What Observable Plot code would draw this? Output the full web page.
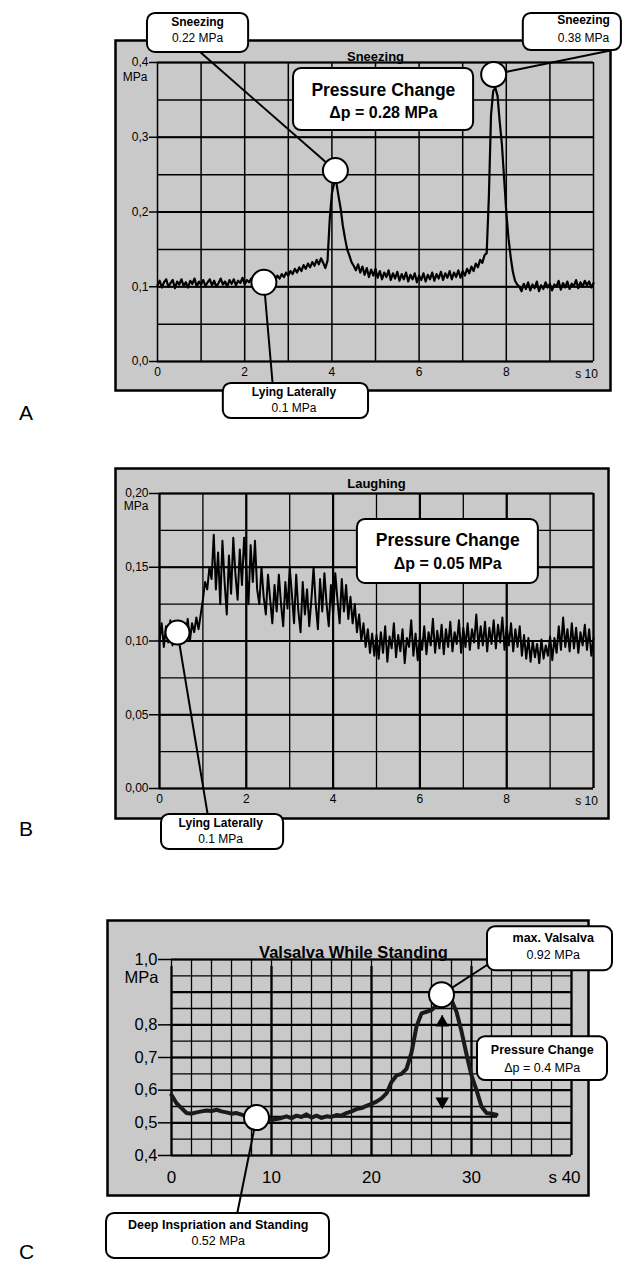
<!DOCTYPE html>
<html><head><meta charset="utf-8">
<script src="https://cdn.jsdelivr.net/npm/d3@7"></script>
<script src="https://cdn.jsdelivr.net/npm/@observablehq/plot@0.6"></script>
<style>
body{margin:0;background:#fff;}
#page{position:relative;width:644px;height:1275px;overflow:hidden;font-family:"Liberation Sans",Arial,Helvetica,sans-serif;}
.panel{position:absolute;left:0;}
.letter{position:absolute;left:19px;font-size:21px;line-height:1;}
</style></head><body><div id="page"></div>
<script>
// ---------------- DATA ----------------
// Panel A: Sneezing, pressure in MPa sampled every 0.05 s, 0..10 s
const sneezeStep = 0.05;
const sneezeValues = [
0.102,0.108,0.099,0.106,0.110,0.100,0.105,0.109,0.098,0.107,
0.103,0.110,0.101,0.106,0.099,0.108,0.104,0.111,0.100,0.107,
0.103,0.109,0.101,0.106,0.110,0.102,0.108,0.100,0.105,0.111,
0.103,0.107,0.100,0.109,0.104,0.110,0.102,0.108,0.105,0.112,
0.103,0.109,0.106,0.111,0.102,0.108,0.105,0.112,0.104,0.110,
0.106,
0.111,0.107,0.113,0.109,0.115,0.111,0.117,0.113,0.119,0.115,
0.121,0.117,0.124,0.119,0.126,0.121,0.129,0.124,0.131,0.126,
0.133,0.128,0.136,0.130,0.138,0.132,
0.125,0.135,0.190,0.225,0.238,0.240,0.222,0.205,0.182,0.165,0.150,0.142,0.133,0.128,
0.122,0.130,0.119,0.127,0.116,0.125,0.113,0.123,0.115,0.124,
0.112,0.121,0.110,0.119,0.113,0.122,0.109,0.118,0.111,0.120,
0.108,0.117,0.110,0.119,0.107,0.116,0.110,0.118,0.106,0.115,
0.109,0.118,0.107,0.116,0.110,0.119,0.108,0.117,0.111,0.120,
0.109,0.118,0.112,0.121,0.110,0.119,0.113,0.122,0.112,0.121,
0.115,0.124,0.118,0.127,0.121,0.131,0.126,0.136,0.132,0.142,
0.145,0.220,0.330,0.362,0.366,0.355,0.320,0.290,0.245,0.200,0.165,0.140,0.120,0.108,0.103,0.100,
0.094,0.104,0.097,0.106,0.095,0.103,0.098,0.107,0.094,0.102,
0.097,0.106,0.099,0.104,0.095,0.103,0.100,0.108,0.096,0.105,
0.099,0.107,0.097,0.104,0.101,0.109,0.098,0.106,0.100,0.108,
0.102,0.107,0.099,0.105
];
const sneezeYTicks = [0, 0.1, 0.2, 0.3, 0.4];
const sneezeXTicks = [0, 2, 4, 6, 8];

// Panel B: Laughing, MPa every 0.05 s, 0..10 s
const laughStep = 0.05;
const laughValues = [
0.100,0.112,0.096,0.110,0.099,0.114,0.097,0.109,0.101,0.113,
0.098,0.111,0.103,0.115,0.100,0.112,0.106,0.116,0.108,
0.118,0.128,0.140,0.135,0.150,0.142,
0.172,0.135,0.160,0.125,0.168,0.140,0.118,0.158,0.132,0.170,
0.145,0.128,0.162,0.138,0.170,0.150,0.125,0.165,0.140,0.168,
0.135,
0.125,0.150,0.130,0.118,0.145,0.128,0.112,0.138,0.120,0.145,
0.125,0.110,0.140,0.122,0.150,0.132,0.112,0.145,0.120,0.106,
0.140,0.118,0.135,0.110,0.128,0.150,0.125,0.108,0.142,0.120,
0.146,0.125,0.110,0.138,0.118,0.146,0.128,0.112,0.142,0.120,
0.138,0.115,0.130,
0.112,0.125,0.106,0.118,0.100,0.112,0.096,0.108,0.092,0.105,0.090,0.104,
0.088,0.106,0.092,0.110,0.086,0.103,0.095,0.112,0.089,0.104,
0.093,0.108,0.085,0.102,0.096,0.114,0.090,0.105,0.087,0.103,
0.094,0.110,0.091,0.106,0.097,0.115,0.092,0.107,0.095,0.111,
0.091,0.108,0.096,0.113,0.093,0.106,0.098,0.114,0.092,0.109,
0.096,0.112,0.094,0.108,0.099,0.118,0.095,0.110,0.097,0.113,
0.093,0.109,0.098,0.114,0.095,0.111,0.099,0.116,0.094,0.110,
0.097,0.112,0.093,0.108,0.096,0.110,0.090,0.104,0.088,0.102,
0.086,0.100,0.089,0.098,0.085,0.101,0.088,0.097,0.090,0.103,
0.087,0.102,0.092,0.110,0.094,0.116,0.096,0.108,0.093,0.112,
0.095,0.109,0.092,0.106,0.097,0.111,0.094,0.108,0.090,0.102
];
const laughYTicks = [0, 0.05, 0.10, 0.15, 0.20];
const laughXTicks = [0, 2, 4, 6, 8];

// Panel C: Valsalva while standing, MPa every 0.5 s, 0..32.5 s
const valsalvaStep = 0.5;
const valsalvaValues = [
0.585,0.560,0.545,0.530,0.528,0.532,0.535,0.538,0.536,0.540,
0.535,0.532,0.528,0.530,0.525,0.520,0.518,0.515,0.512,0.510,
0.508,0.512,0.515,0.520,0.514,0.522,0.518,0.526,0.516,0.522,
0.515,0.520,0.518,0.524,0.522,0.530,0.535,0.542,0.545,0.552,
0.558,0.565,0.575,0.590,0.625,0.645,0.650,0.665,0.715,0.795,
0.835,0.840,0.845,0.860,0.865,0.870,0.875,0.840,0.780,0.710,
0.645,0.600,0.550,0.530,0.528,0.525
];
const valsalvaYTicks = [0.4, 0.5, 0.6, 0.7, 0.8, 1.0];
const valsalvaXTicks = [0, 10, 20, 30];

// ---------------- ANNOTATIONS (data coordinates) ----------------
const sneezeMarkers = [{t:4.08, p:0.2555}, {t:7.71, p:0.384}, {t:2.44, p:0.106}];
const sneezeLeaders = [
  {x1:0.99, y1:0.4134, x2:4.08, y2:0.2555},
  {x1:7.71, y1:0.384, x2:10.39, y2:0.416},
  {x1:2.44, y1:0.106, x2:2.64, y2:-0.0294}
];
const sneezeNotes = [
  {x1:-0.23, x2:2.09, y1:0.4134, y2:0.4656, tx:0.92, ty1:0.4535, ty2:0.432, a:"Sneezing", b:"0.22 MPa"},
  {x1:8.39, x2:10.64, y1:0.416, y2:0.4656, tx:9.77, ty1:0.456, ty2:0.433, a:"Sneezing", b:"0.38 MPa"},
  {x1:1.51, x2:4.84, y1:-0.0763, y2:-0.0294, tx:3.13, ty1:-0.0415, ty2:-0.0629, a:"Lying Laterally", b:"0.1 MPa"}
];
const sneezeChange = [{x1:3.12, x2:7.25, y1:0.309, y2:0.392, tx:5.18, ty1:0.3625, ty2:0.332, a:"Pressure Change", b:"Δp = 0.28 MPa"}];

const laughMarkers = [{t:0.415, p:0.1058}];
const laughLeaders = [{x1:0.415, y1:0.1058, x2:1.11, y2:-0.0176}];
const laughNotes = [{x1:0.046, x2:2.86, y1:-0.0414, y2:-0.0176, tx:1.41, ty1:-0.0237, ty2:-0.0346, a:"Lying Laterally", b:"0.1 MPa"}];
const laughChange = [{x1:4.56, x2:8.73, y1:0.139, y2:0.1824, tx:6.64, ty1:0.168, ty2:0.1525, a:"Pressure Change", b:"Δp = 0.05 MPa"}];

const valsalvaMarkers = [{t:27.0, p:0.8924}, {t:8.5, p:0.516}];
const valsalvaLeaders = [
  {x1:27.0, y1:0.8924, x2:31.9, y2:0.990},
  {x1:8.5, y1:0.516, x2:6.57, y2:0.2226}
];
const valsalvaBaseline = [{x1:8.5, x2:32.6, y:0.519}];
const valsalvaArrow = [{x:27.07, top:0.828, bottom:0.544}];
const valsalvaNotes = [
  {x1:31.6, x2:44.1, y1:0.9657, y2:1.1003, tx:38.17, ty1:1.0667, ty2:1.0147, a:"max. Valsalva", b:"0.92 MPa"},
  {x1:30.6, x2:43.6, y1:0.6294, y2:0.7639, tx:37.07, ty1:0.724, ty2:0.669, a:"Pressure Change", b:"Δp = 0.4 MPa"},
  {x1:-6.5, x2:15.8, y1:0.085, y2:0.2226, tx:4.67, ty1:0.186, ty2:0.137, a:"Deep Inspriation and Standing", b:"0.52 MPa"}
];

// ---------------- RENDER ----------------
const FONT = '"Liberation Sans", Arial, Helvetica, sans-serif';
const GRAY = "#c9c9c9";
const page = document.getElementById("page");

function range(a, b, s) { const out = []; for (let v = a; v <= b + 1e-9; v += s) out.push(+v.toFixed(4)); return out; }

function boxMarks(notes, s1, s2, w2) {
  return [
    Plot.rect(notes, {x1:"x1", x2:"x2", y1:"y1", y2:"y2", fill:"white", stroke:"black", strokeWidth:2, rx:8, ry:8}),
    Plot.text(notes, {x:"tx", y:"ty1", text:"a", fontWeight:"bold", fontSize:s1, fill:"black"}),
    Plot.text(notes, {x:"tx", y:"ty2", text:"b", fontWeight:w2, fontSize:s2, fill:"black"})
  ];
}

function place(svg, top) {
  svg.classList.add("panel");
  svg.style.top = top + "px";
  page.appendChild(svg);
}
function letter(txt, top) {
  const d = document.createElement("div");
  d.className = "letter"; d.textContent = txt; d.style.top = top + "px";
  page.appendChild(d);
}

// Panel A
{
  const data = sneezeValues.map((v, i) => ({t: i * sneezeStep, p: v}));
  const svg = Plot.plot({
    width:644, height:420, marginLeft:157, marginRight:51, marginTop:62, marginBottom:59,
    style:{fontFamily:FONT, background:"transparent", overflow:"visible", color:"black"},
    x:{domain:[0,10]}, y:{domain:[0,0.4]},
    marks:[
      Plot.frame({fill:GRAY, stroke:"black", strokeWidth:2.5, insetLeft:-42, insetRight:-17, insetTop:-22, insetBottom:-29}),
      Plot.ruleX(range(0,10,1), {stroke:"black", strokeWidth:1.5}),
      Plot.ruleY(range(0,0.4,0.05), {stroke:"black", strokeWidth:1.5}),
      Plot.ruleY(sneezeYTicks, {stroke:"black", strokeWidth:2}),
      Plot.line(data, {x:"t", y:"p", stroke:"black", strokeWidth:2.2}),
      Plot.axisY({ticks:sneezeYTicks, tickFormat:d => d.toFixed(1).replace(".", ","), tickSize:8, tickPadding:1, fontSize:12, label:null, strokeWidth:1.5}),
      Plot.axisX({ticks:sneezeXTicks, tickSize:0, tickPadding:6, fontSize:12, label:null}),
      Plot.text(["s 10"], {x:10, y:0, dx:-7, dy:13, fontSize:12, fill:"black"}),
      Plot.text(["MPa"], {x:0, y:0.4, dx:-10, dy:15, textAnchor:"end", fontSize:12, fill:"black"}),
      Plot.text(["Sneezing"], {frameAnchor:"top", dy:-11, fontWeight:"bold", fontSize:13, fill:"black"}),
      Plot.link(sneezeLeaders, {x1:"x1", y1:"y1", x2:"x2", y2:"y2", stroke:"black", strokeWidth:2}),
      Plot.dot(sneezeMarkers, {x:"t", y:"p", r:12.5, fill:"white", stroke:"black", strokeWidth:2}),
      ...boxMarks(sneezeNotes, 12, 12, "normal"),
      ...boxMarks(sneezeChange, 17.5, 16, "bold")
    ]
  });
  place(svg, 0);
  letter("A", 402);
}

// Panel B
{
  const data = laughValues.map((v, i) => ({t: i * laughStep, p: v}));
  const svg = Plot.plot({
    width:644, height:430, marginLeft:159, marginRight:51, marginTop:73, marginBottom:62,
    style:{fontFamily:FONT, background:"transparent", overflow:"visible", color:"black"},
    x:{domain:[0,10]}, y:{domain:[0,0.2]},
    marks:[
      Plot.frame({fill:GRAY, stroke:"black", strokeWidth:2.5, insetLeft:-44, insetRight:-15, insetTop:-25, insetBottom:-30}),
      Plot.ruleX(range(0,10,1), {stroke:"black", strokeWidth:1.3}),
      Plot.ruleX(range(0,10,2), {stroke:"black", strokeWidth:2.2}),
      Plot.ruleY(range(0,0.2,0.025), {stroke:"black", strokeWidth:1.3}),
      Plot.ruleY(laughYTicks, {stroke:"black", strokeWidth:2.2}),
      Plot.line(data, {x:"t", y:"p", stroke:"black", strokeWidth:2}),
      Plot.axisY({ticks:laughYTicks, tickFormat:d => d.toFixed(2).replace(".", ","), tickSize:10, tickPadding:1, fontSize:12, label:null, strokeWidth:1.5}),
      Plot.axisX({ticks:laughXTicks, tickSize:0, tickPadding:6, fontSize:12, label:null}),
      Plot.text(["s 10"], {x:10, y:0, dx:-7, dy:13, fontSize:12, fill:"black"}),
      Plot.text(["MPa"], {x:0, y:0.2, dx:-11, dy:13, textAnchor:"end", fontSize:12, fill:"black"}),
      Plot.text(["Laughing"], {frameAnchor:"top", dy:-15, fontWeight:"bold", fontSize:13, fill:"black"}),
      Plot.link(laughLeaders, {x1:"x1", y1:"y1", x2:"x2", y2:"y2", stroke:"black", strokeWidth:2}),
      Plot.dot(laughMarkers, {x:"t", y:"p", r:12, fill:"white", stroke:"black", strokeWidth:2}),
      ...boxMarks(laughNotes, 12, 12, "normal"),
      ...boxMarks(laughChange, 17.5, 16, "bold")
    ]
  });
  place(svg, 420);
  letter("B", 818);
}

// Panel C
{
  const data = valsalvaValues.map((v, i) => ({t: i * valsalvaStep, p: v}));
  const svg = Plot.plot({
    width:644, height:425, marginLeft:171, marginRight:73, marginTop:109, marginBottom:120,
    style:{fontFamily:FONT, background:"transparent", overflow:"visible", color:"black"},
    x:{domain:[0,40]}, y:{domain:[0.4,1.0]},
    marks:[
      Plot.frame({fill:GRAY, stroke:"black", strokeWidth:2.5, insetLeft:-64, insetRight:-17, insetTop:-39, insetBottom:-40}),
      Plot.ruleX(range(0,40,2), {stroke:"black", strokeWidth:1.3}),
      Plot.ruleX(range(0,40,10), {stroke:"black", strokeWidth:2.2, y1:0.4, y2:1.0, insetBottom:-7}),
      Plot.ruleY(range(0.4,1.0,0.05), {stroke:"black", strokeWidth:1.3}),
      Plot.ruleY(range(0.4,1.0,0.1), {stroke:"black", strokeWidth:2.2}),
      Plot.ruleX(valsalvaArrow, {x:"x", y1:"top", y2:"bottom", stroke:"black", strokeWidth:1.5}),
      Plot.dot(valsalvaArrow, {x:"x", y:"top", symbol:"triangle", r:5, dy:7, fill:"black", stroke:"none"}),
      Plot.dot(valsalvaArrow, {x:"x", y:"bottom", symbol:"triangle", r:5, dy:-7, rotate:180, fill:"black", stroke:"none"}),
      Plot.ruleY(valsalvaBaseline, {y:"y", x1:"x1", x2:"x2", stroke:"black", strokeWidth:2}),
      Plot.line(data, {x:"t", y:"p", stroke:"#1a1a1a", strokeWidth:4, strokeLinejoin:"round"}),
      Plot.axisY({ticks:valsalvaYTicks, tickFormat:d => d.toFixed(1).replace(".", ","), tickSize:13, tickPadding:1, fontSize:16.5, label:null, strokeWidth:1.5}),
      Plot.axisX({ticks:valsalvaXTicks, tickSize:0, tickPadding:15, fontSize:17, label:null}),
      Plot.text(["s 40"], {x:40, y:0.4, dx:-7, dy:22, fontSize:17, fill:"black"}),
      Plot.text(["MPa"], {x:0, y:1.0, dx:-13, dy:18, textAnchor:"end", fontSize:16.5, fill:"black"}),
      Plot.text(["Valsalva While Standing"], {frameAnchor:"top", dx:-18, dy:-13, fontWeight:"bold", fontSize:16.5, fill:"black"}),
      Plot.link(valsalvaLeaders, {x1:"x1", y1:"y1", x2:"x2", y2:"y2", stroke:"black", strokeWidth:2}),
      Plot.dot(valsalvaMarkers, {x:"t", y:"p", r:12.5, fill:"white", stroke:"black", strokeWidth:2}),
      ...boxMarks(valsalvaNotes, 12.5, 12.5, "normal")
    ]
  });
  place(svg, 850);
  letter("C", 1241);
}
</script>
</body></html>
